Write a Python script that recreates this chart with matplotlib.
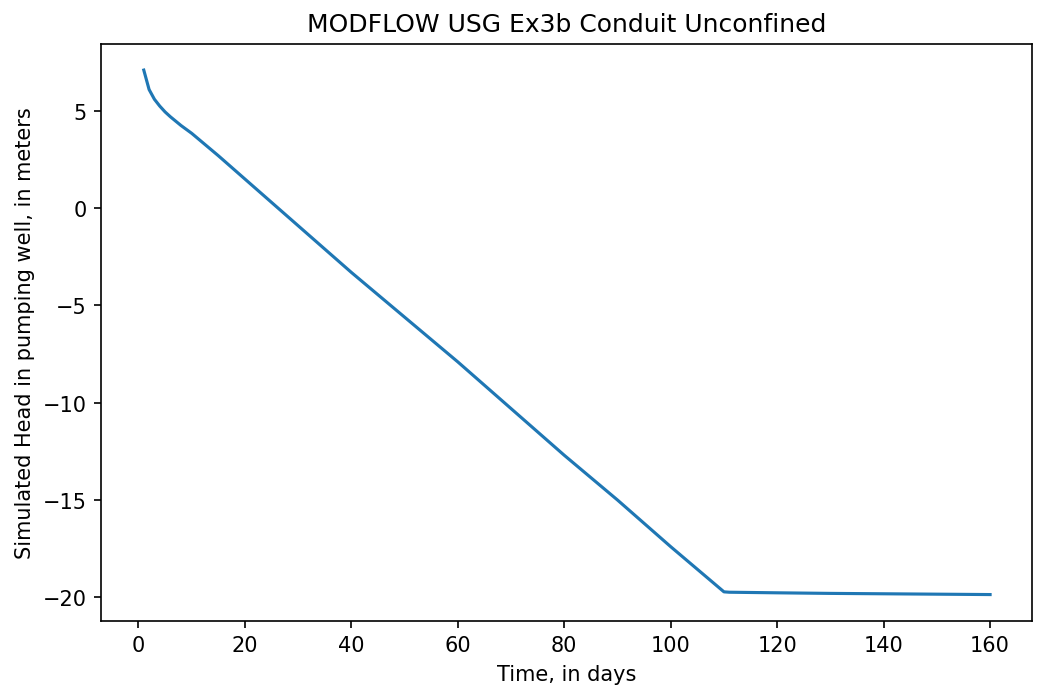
import matplotlib
matplotlib.use("Agg")
import matplotlib.pyplot as plt

# values
time_days = [1, 2, 3, 4, 5, 6, 8, 10, 15, 20, 30, 40, 50, 60, 70, 80, 90, 100, 110,
             111, 120, 130, 140, 150, 160]
head_m = [7.1, 6.1, 5.6, 5.25, 4.95, 4.7, 4.25, 3.85, 2.7, 1.5, -0.9, -3.3, -5.6, -7.9,
          -10.3, -12.7, -15.0, -17.4, -19.72, -19.74, -19.77, -19.8, -19.82, -19.84, -19.86]

fig = plt.figure(figsize=(1046 / 150, 701 / 150), dpi=150)
ax = fig.add_subplot(111)
fig.subplots_adjust(left=0.097, right=0.987, top=0.936, bottom=0.113)

ax.plot(time_days, head_m, color="tab:blue")
ax.set_xlabel("Time, in days")
ax.set_ylabel("Simulated Head in pumping well, in meters")
ax.set_title("MODFLOW USG Ex3b Conduit Unconfined")

fig.savefig("out.png", dpi=150)
